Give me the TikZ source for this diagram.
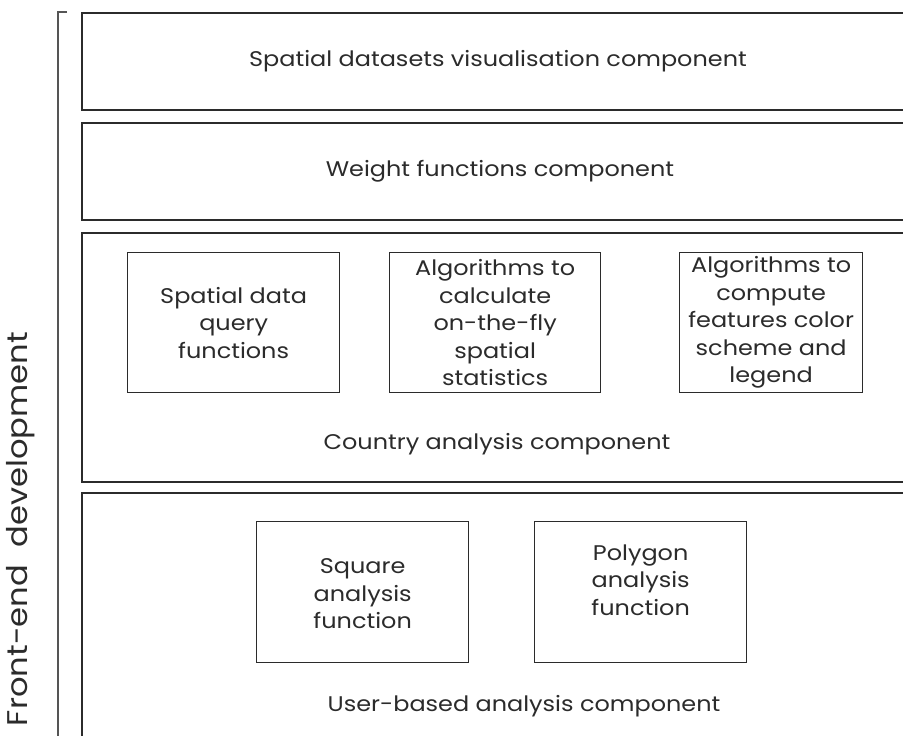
\documentclass[tikz,border=0pt]{standalone}
\usepackage{fontspec}
\setmainfont[FakeStretch=1.13]{Poppins}
\definecolor{ink}{HTML}{2B2B2B}
\definecolor{brk}{HTML}{555555}
\begin{document}
\begin{tikzpicture}[x=1pt,y=-1pt,
  outerbox/.style={draw=ink,line width=1.5pt,anchor=north west,minimum width=840pt,inner sep=0pt},
  innerbox/.style={draw=ink,line width=1.3pt,anchor=north west,inner sep=0pt,minimum width=212pt,minimum height=140pt},
  txt/.style={text=ink,font=\fontsize{21.2}{27.5}\selectfont,align=center,inner sep=0pt}]
\useasboundingbox (0,0) rectangle (903,736);
\clip (0,0) rectangle (903,736);
% outer component boxes
\node[outerbox,minimum height=97pt] (b1) at (81,12) {};
\node[outerbox,minimum height=97pt] (b2) at (81,122) {};
\node[outerbox,minimum height=249pt] (b3) at (81,232) {};
\node[outerbox,minimum height=260pt] (b4) at (81,492) {};
% titles
\node[txt] (t1) at (498,61) {Spatial datasets visualisation component};
\node[txt] (t2) at (500,171) {Weight functions component};
\node[txt] (t3) at (497,444) {Country analysis component};
\node[txt] (t4) at (524,706) {User-based analysis component};
% inner boxes
\node[innerbox] (q) at (127,252) {};
\node[txt] (qt) at (q.center) {Spatial data\\query\\functions};
\node[innerbox,minimum width=211pt] (s) at (389,252) {};
\node[txt] (st) at (s.center) {Algorithms to\\calculate\\on-the-fly\\spatial\\statistics};
\node[innerbox,minimum width=183pt] (c) at (679,252) {};
\node[txt] (ct) at (c.center) {Algorithms to\\compute\\features color\\scheme and\\legend};
\node[innerbox,minimum height=141pt] (sq) at (256,521) {};
\node[txt] (sqt) at ([yshift=-1.5pt]sq.center) {Square\\analysis\\function};
\node[innerbox,minimum height=141pt] (pg) at (534,521) {};
\node[txt] (pgt) at ([yshift=12pt]pg.center) {Polygon\\analysis\\function};
% bracket
\coordinate (bt) at (58,12);
\coordinate (bh) at (67,12);
\coordinate (bb) at (58,740);
\draw[brk,line width=1.6pt] (bh) -- (bt) -- (bb);
\node[text=ink,font=\fontsize{28.5}{32}\selectfont,rotate=90,inner sep=0pt] (fe) at (21,529) {Front-end\ \ development};
\end{tikzpicture}
\end{document}
